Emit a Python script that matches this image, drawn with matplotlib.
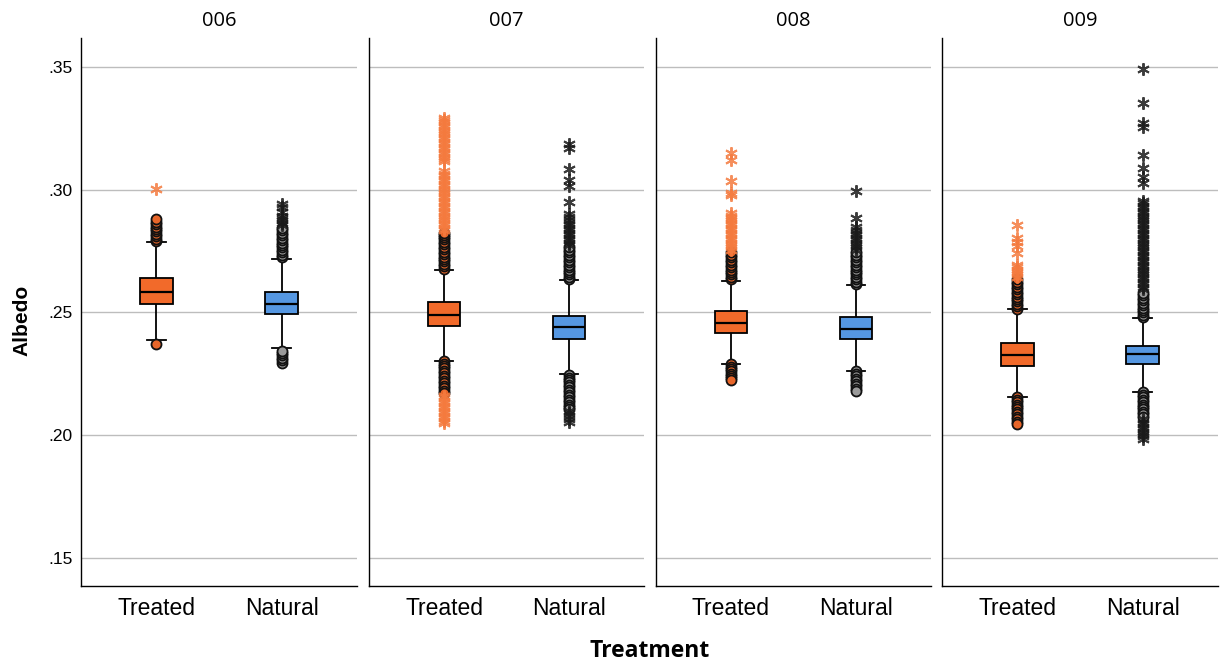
import matplotlib
matplotlib.use("Agg")
import matplotlib.pyplot as plt

sites = ["006", "007", "008", "009"]
groups = ["Treated", "Natural"]
y_ticks = [0.15, 0.20, 0.25, 0.30, 0.35]
y_tick_labels = [".15", ".20", ".25", ".30", ".35"]

# Box statistics per site, ordered [Treated, Natural]
q1 = [[0.2535, 0.2494], [0.2445, 0.2392], [0.2415, 0.2391], [0.2283, 0.2290]]
median = [[0.2583, 0.2536], [0.2490, 0.2440], [0.2459, 0.2433], [0.2327, 0.2331]]
q3 = [[0.2639, 0.2582], [0.2542, 0.2487], [0.2506, 0.2480], [0.2375, 0.2364]]
whisker_lo = [[0.2387, 0.2357], [0.2302, 0.2249], [0.2290, 0.2263], [0.2157, 0.2178]]
whisker_hi = [[0.2788, 0.2719], [0.2673, 0.2631], [0.2630, 0.2612], [0.2513, 0.2476]]

# Outliers (circles) and extreme values (asterisks)
t006_out = [0.2372, 0.2792, 0.2800, 0.2810, 0.2820, 0.2830, 0.2840, 0.2850,
            0.2860, 0.2870, 0.2882]
t006_ext = [0.3002]
n006_out = [0.2296, 0.2305, 0.2316, 0.2325, 0.2335, 0.2345,
            0.2725, 0.2735, 0.2745, 0.2755, 0.2765, 0.2775, 0.2785, 0.2795,
            0.2805, 0.2815, 0.2825, 0.2835, 0.2845]
n006_ext = [0.2855, 0.2865, 0.2875, 0.2885, 0.2895, 0.2910, 0.2928, 0.2942]

t007_out = [0.2302, 0.2292, 0.2282, 0.2272, 0.2262, 0.2252, 0.2242, 0.2232,
            0.2222, 0.2212, 0.2202, 0.2192, 0.2182, 0.2172,
            0.2678, 0.2688, 0.2698, 0.2708, 0.2718, 0.2728, 0.2738, 0.2748,
            0.2758, 0.2768, 0.2778, 0.2788, 0.2798, 0.2808, 0.2816, 0.2824]
t007_ext = [0.2160, 0.2150, 0.2140, 0.2130, 0.2120, 0.2110, 0.2100, 0.2090,
            0.2080, 0.2070, 0.2060, 0.2050,
            0.2835, 0.2845, 0.2855, 0.2865, 0.2875, 0.2885, 0.2895, 0.2905,
            0.2915, 0.2925, 0.2935, 0.2945, 0.2955, 0.2965, 0.2975, 0.2985,
            0.2995, 0.3005, 0.3015, 0.3025, 0.3035, 0.3045, 0.3055, 0.3065,
            0.3075,
            0.3115, 0.3125, 0.3135, 0.3145, 0.3155, 0.3165, 0.3175, 0.3185,
            0.3195, 0.3205, 0.3215, 0.3225, 0.3235, 0.3245, 0.3255, 0.3265,
            0.3275, 0.3285, 0.3292]
n007_out = [0.2245, 0.2235, 0.2225, 0.2215, 0.2205, 0.2195, 0.2185, 0.2175,
            0.2165, 0.2155, 0.2145, 0.2135, 0.2125, 0.2115, 0.2105,
            0.2635, 0.2645, 0.2655, 0.2665, 0.2675, 0.2685, 0.2695, 0.2705,
            0.2715, 0.2725, 0.2735, 0.2745, 0.2755, 0.2765]
n007_ext = [0.2098, 0.2090, 0.2080, 0.2068, 0.2055,
            0.2775, 0.2785, 0.2795, 0.2805, 0.2815, 0.2825, 0.2835, 0.2845,
            0.2855, 0.2865, 0.2875, 0.2888, 0.2900,
            0.2951, 0.3015, 0.3040, 0.3083, 0.3169, 0.3186]

t008_out = [0.2290, 0.2280, 0.2270, 0.2260, 0.2250, 0.2240, 0.2232, 0.2225,
            0.2635, 0.2645, 0.2655, 0.2665, 0.2675, 0.2685, 0.2695, 0.2705,
            0.2715, 0.2725, 0.2735, 0.2745]
t008_ext = [0.2755, 0.2765, 0.2775, 0.2785, 0.2795, 0.2805, 0.2815, 0.2825,
            0.2835, 0.2845, 0.2855, 0.2865, 0.2875, 0.2885, 0.2895, 0.2905,
            0.2979, 0.2988, 0.3037, 0.3121, 0.3151]
n008_out = [0.2260, 0.2250, 0.2240, 0.2230, 0.2220, 0.2210, 0.2200, 0.2190,
            0.2180,
            0.2615, 0.2625, 0.2635, 0.2645, 0.2655, 0.2665, 0.2675, 0.2685,
            0.2695, 0.2705, 0.2715, 0.2725, 0.2735, 0.2745]
n008_ext = [0.2755, 0.2765, 0.2775, 0.2785, 0.2795, 0.2805, 0.2815, 0.2825,
            0.2835, 0.2850, 0.2884, 0.2995]

t009_out = [0.2155, 0.2145, 0.2135, 0.2125, 0.2115, 0.2105, 0.2095, 0.2085,
            0.2075, 0.2065, 0.2055, 0.2045,
            0.2515, 0.2525, 0.2535, 0.2545, 0.2555, 0.2565, 0.2575, 0.2585,
            0.2595, 0.2605, 0.2615, 0.2625, 0.2635]
t009_ext = [0.2645, 0.2655, 0.2665, 0.2675, 0.2685, 0.2693, 0.2741, 0.2770,
            0.2788, 0.2802, 0.2856]
n009_out = [0.2175, 0.2165, 0.2155, 0.2145, 0.2135, 0.2125, 0.2115, 0.2105,
            0.2095, 0.2085, 0.2075,
            0.2480, 0.2490, 0.2500, 0.2510, 0.2520, 0.2530, 0.2540, 0.2550,
            0.2560, 0.2570, 0.2580]
n009_ext = [0.2065, 0.2055, 0.2045, 0.2035, 0.2025, 0.2015, 0.2005, 0.1995,
            0.1985,
            0.2595, 0.2605, 0.2615, 0.2625, 0.2635, 0.2645, 0.2655, 0.2665,
            0.2675, 0.2685, 0.2695, 0.2705, 0.2715, 0.2725, 0.2735, 0.2745,
            0.2755, 0.2765, 0.2775, 0.2785, 0.2795, 0.2805, 0.2815, 0.2825,
            0.2835, 0.2845, 0.2855, 0.2865, 0.2875, 0.2885, 0.2895, 0.2905,
            0.2915, 0.2925, 0.2935, 0.2945, 0.2955,
            0.3026, 0.3053, 0.3087, 0.3142, 0.3254, 0.3273, 0.3352, 0.3491]

outliers = [[t006_out, n006_out], [t007_out, n007_out],
            [t008_out, n008_out], [t009_out, n009_out]]
extremes = [[t006_ext, n006_ext], [t007_ext, n007_ext],
            [t008_ext, n008_ext], [t009_ext, n009_ext]]

box_colors = ["#F26A2A", "#5597E2"]
circle_faces = ["#E8662A", "#9a9a9a"]
circle_edges = ["#111111", "#111111"]
star_colors = ["#F47A3E", "#1a1a1a"]

W, H = 1221, 665
fig = plt.figure(figsize=(W / 100, H / 100), dpi=100)

panel_px = [(81, 357), (369, 644), (656, 931), (942, 1218)]
top_px, bottom_px = 38, 586

for i, site in enumerate(sites):
    x0, x1 = panel_px[i]
    ax = fig.add_axes([x0 / W, 1 - bottom_px / H, (x1 - x0) / W,
                       (bottom_px - top_px) / H])
    ax.set_xlim(0.4, 2.6)
    ax.set_ylim(0.1386, 0.3618)
    for yv in y_ticks:
        ax.axhline(yv, color="#bdbdbd", lw=1.0, zorder=0)

    stats = []
    for g in range(2):
        stats.append(dict(med=median[i][g], q1=q1[i][g], q3=q3[i][g],
                          whislo=whisker_lo[i][g], whishi=whisker_hi[i][g],
                          fliers=[]))
    bp = ax.bxp(stats, positions=[1, 2], widths=0.26, patch_artist=True,
                showfliers=False,
                boxprops=dict(edgecolor="black", linewidth=1.3),
                medianprops=dict(color="black", linewidth=1.6),
                whiskerprops=dict(color="black", linewidth=1.3),
                capprops=dict(color="black", linewidth=1.3),
                capwidths=0.15)
    for g, patch in enumerate(bp["boxes"]):
        patch.set_facecolor(box_colors[g])
        patch.set_zorder(3)
    for art in bp["medians"]:
        art.set_zorder(4)

    for g in range(2):
        pos = g + 1
        ax.plot([pos] * len(outliers[i][g]), outliers[i][g], linestyle="none",
                marker="o", markersize=7.2, markerfacecolor=circle_faces[g],
                markeredgecolor=circle_edges[g], markeredgewidth=1.3,
                zorder=2)
        ax.plot([pos] * len(extremes[i][g]), extremes[i][g], linestyle="none",
                marker=(6, 2, 0), markersize=9, markeredgecolor=star_colors[g],
                markeredgewidth=1.4, alpha=0.85, zorder=2)

    ax.set_title(site, fontsize=14.5, family="Open Sans", pad=9)
    ax.set_xticks([1, 2])
    ax.set_xticklabels(groups, fontsize=16.5, family="Liberation Sans")
    ax.tick_params(axis="x", length=0, pad=8)
    ax.set_yticks(y_ticks)
    if i == 0:
        ax.set_yticklabels(y_tick_labels, fontsize=12.5, family="Liberation Sans")
        ax.tick_params(axis="y", length=0, pad=6)
    else:
        ax.set_yticklabels([])
        ax.tick_params(axis="y", length=0)
    for s in ["top", "right"]:
        ax.spines[s].set_visible(False)
    for s in ["left", "bottom"]:
        ax.spines[s].set_color("black")
        ax.spines[s].set_linewidth(1.0)

fig.text(22 / W, 1 - 320 / H, "Albedo", rotation=90, ha="center", va="center",
         fontsize=15, fontweight="bold", family="Liberation Sans")
fig.text(650 / W, 1 - 651 / H, "Treatment", ha="center", va="center",
         fontsize=16.5, fontweight="bold", family="Open Sans")

fig.savefig("out.png", dpi=100, facecolor="white")
